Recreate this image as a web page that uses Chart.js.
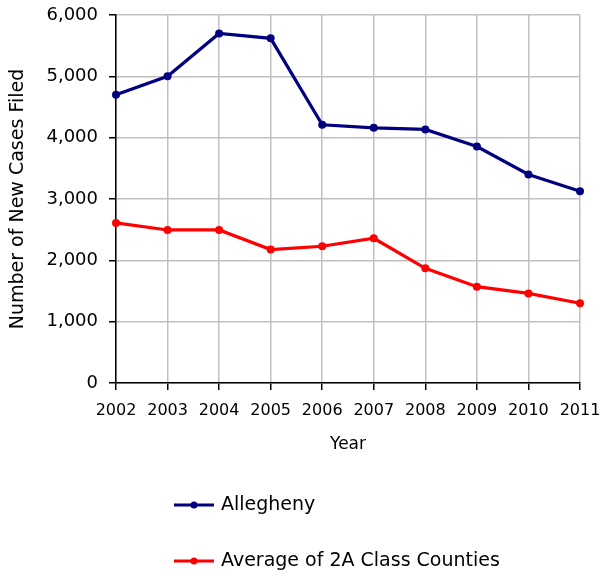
<!DOCTYPE html>
<html>
<head>
<meta charset="utf-8">
<script src="https://cdn.jsdelivr.net/npm/chart.js@4.4.0/dist/chart.umd.min.js"></script>
<style>
    html, body { margin: 0; padding: 0; background: #ffffff; }
    #wrap { width: 600px; height: 573px; position: relative; }
</style>
</head>
<body>
<div id="wrap"><canvas id="casesChart"></canvas></div>
<script>
const years = ['2002', '2003', '2004', '2005', '2006', '2007', '2008', '2009', '2010', '2011'];
const allegheny = [4700, 5000, 5700, 5620, 4210, 4160, 4135, 3855, 3400, 3125];
const classAverage = [2610, 2495, 2495, 2175, 2230, 2360, 1870, 1570, 1460, 1300];
const yTicks = [0, 1000, 2000, 3000, 4000, 5000, 6000];

const colors = {
    allegheny: '#000080',
    average: '#FF0000',
    grid: '#C0C0C0',
    axis: '#000000',
    text: '#000000'
};

const FONT = 'DejaVu Sans, sans-serif';

// legend stacked under the chart, one item per row
const stackedLegend = {
    id: 'stackedLegend',
    afterDraw(chart) {
        const ctx = chart.ctx;
        const rows = [505, 561];
        ctx.save();
        chart.data.datasets.forEach((ds, i) => {
            const y = rows[i];
            ctx.strokeStyle = ds.borderColor;
            ctx.lineWidth = 3;
            ctx.beginPath();
            ctx.moveTo(174, y);
            ctx.lineTo(214, y);
            ctx.stroke();
            ctx.fillStyle = ds.borderColor;
            ctx.beginPath();
            ctx.arc(194, y, 3.5, 0, Math.PI * 2);
            ctx.fill();
            ctx.fillStyle = colors.text;
            ctx.font = '19px ' + FONT;
            ctx.textBaseline = 'middle';
            ctx.textAlign = 'left';
            ctx.fillText(ds.label, 221, y);
        });
        ctx.restore();
    }
};

function makeDataset(label, data, color) {
    return {
        label: label,
        data: data,
        borderColor: color,
        backgroundColor: color,
        borderWidth: 3.2,
        pointRadius: 4,
        pointBackgroundColor: color,
        pointBorderColor: color,
        pointBorderWidth: 0,
        tension: 0,
        fill: false
    };
}

const ctx = document.getElementById('casesChart').getContext('2d');
new Chart(ctx, {
    type: 'line',
    data: {
        labels: years,
        datasets: [
            makeDataset('Allegheny', allegheny, colors.allegheny),
            makeDataset('Average of 2A Class Counties', classAverage, colors.average)
        ]
    },
    options: {
        responsive: true,
        maintainAspectRatio: false,
        animation: false,
        layout: {
            padding: { left: 0, right: 20, top: 15, bottom: 110 }
        },
        plugins: {
            legend: { display: false },
            tooltip: { enabled: false }
        },
        scales: {
            x: {
                offset: false,
                grid: {
                    color: colors.grid,
                    lineWidth: 1.5,
                    tickColor: colors.axis,
                    tickLength: 7,
                    drawTicks: true
                },
                border: { color: colors.axis, width: 1.5 },
                ticks: {
                    color: colors.text,
                    font: { family: FONT, size: 16 },
                    padding: 11,
                    maxRotation: 0,
                    autoSkip: false
                },
                title: {
                    display: true,
                    text: 'Year',
                    color: colors.text,
                    font: { family: FONT, size: 17 },
                    padding: { top: 4, bottom: 8 }
                },
                afterFit(scale) {
                    scale.height = 80;
                    scale.paddingLeft = 0;
                    scale.paddingRight = 0;
                }
            },
            y: {
                min: 0,
                max: 6000,
                afterBuildTicks(scale) {
                    scale.ticks = yTicks.map(v => ({ value: v }));
                },
                grid: {
                    color: colors.grid,
                    lineWidth: 1.5,
                    tickColor: colors.axis,
                    tickLength: 7
                },
                border: { color: colors.axis, width: 1.5 },
                ticks: {
                    color: colors.text,
                    font: { family: FONT, size: 18 },
                    padding: 11,
                    callback: v => v.toLocaleString('en-US')
                },
                title: {
                    display: true,
                    text: 'Number of New Cases Filed',
                    color: colors.text,
                    font: { family: FONT, size: 19 },
                    padding: { top: 7, bottom: 4 }
                },
                afterFit(scale) {
                    scale.width = 116;
                    scale.paddingTop = 0;
                    scale.paddingBottom = 0;
                }
            }
        }
    },
    plugins: [stackedLegend]
});
</script>
</body>
</html>
